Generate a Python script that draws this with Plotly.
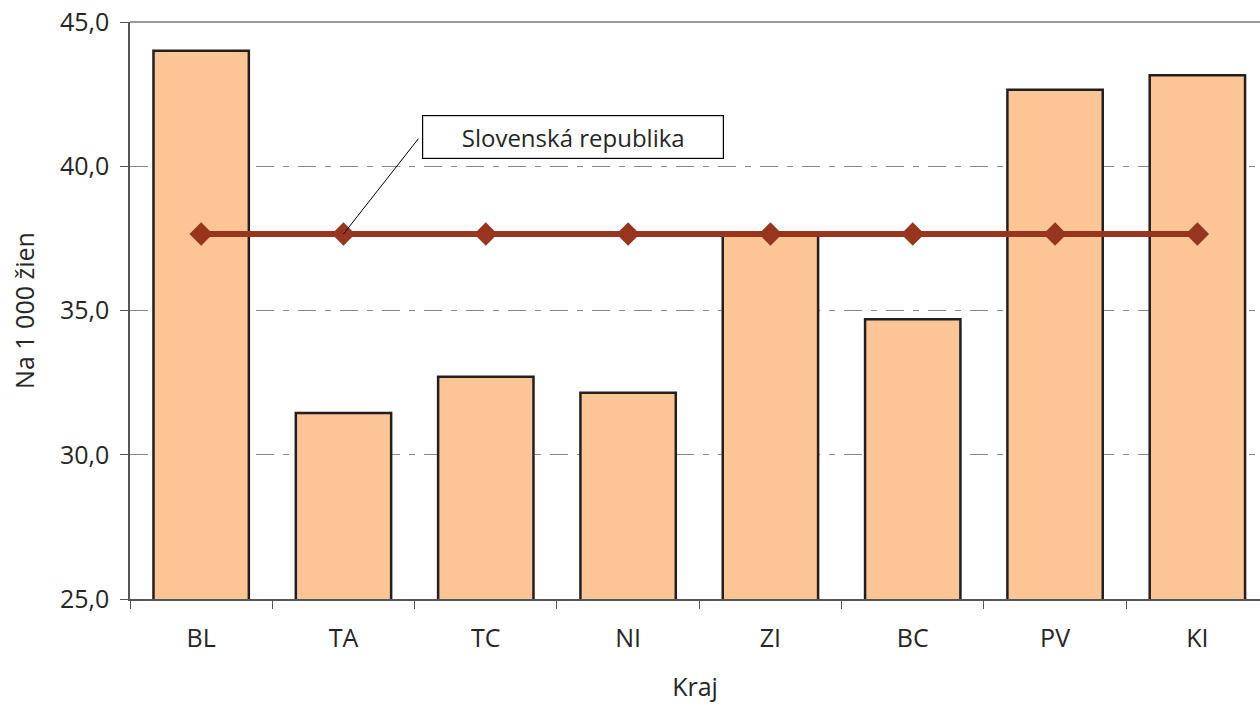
import plotly.graph_objects as go

categories = ["BL", "TA", "TC", "NI", "ZI", "BC", "PV", "KI"]
kraj_values = [44.0, 31.45, 32.7, 32.15, 37.7, 34.7, 42.65, 43.15]
sr_values = [37.65, 37.65, 37.65, 37.65, 37.65, 37.65, 37.65, 37.65]
y_tickvals = [25, 30, 35, 40, 45]
y_ticktext = ["25,0", "30,0", "35,0", "40,0", "45,0"]
series_label = "Slovenská republika"

FONT = "Open Sans"
TXT = "#262626"

fig = go.Figure()
fig.add_trace(go.Bar(
    x=categories, y=kraj_values, base=0,
    marker=dict(color="#FBC596", line=dict(color="#231F20", width=2.5)),
    width=0.67, showlegend=False,
))
fig.add_trace(go.Scatter(
    x=categories, y=sr_values, mode="lines+markers",
    line=dict(color="#97351F", width=6),
    marker=dict(symbol="diamond", size=18, color="#97351F"),
    showlegend=False, name=series_label,
))

fig.update_layout(
    width=1260, height=707,
    margin=dict(l=130, r=0, t=22, b=108, autoexpand=False),
    plot_bgcolor="white", paper_bgcolor="white",
    font=dict(family=FONT, size=25, color=TXT),
    bargap=0.33,
)
fig.update_xaxes(
    range=[-0.5, 7.44],
    showline=True, linecolor="#555", linewidth=1.5,
    ticks="outside", tickson="boundaries", ticklen=8, tickcolor="#555",
    ticklabelstandoff=16,
    showgrid=False, automargin=False,
    title=dict(text="Kraj", standoff=26, font=dict(size=25)),
    tickfont=dict(size=25),
)
fig.update_yaxes(
    range=[25, 45],
    tickvals=y_tickvals, ticktext=y_ticktext,
    showline=True, linecolor="#555", linewidth=1.5,
    ticks="outside", ticklen=8, tickcolor="#555",
    ticklabelstandoff=6, ticklabeloverflow="allow",
    showgrid=True, gridcolor="#8a8a8a", gridwidth=1,
    griddash="18px,9px,6px,9px",
    zeroline=False, automargin=False,
    title=dict(text="Na 1 000 žien", standoff=18, font=dict(size=25)),
    tickfont=dict(size=25),
)
# top frame line
fig.add_shape(type="line", xref="paper", yref="paper", x0=0, x1=1, y0=1, y1=1,
              line=dict(color="#999", width=2))

# leader line to TA marker
fig.add_annotation(x=categories[1], y=sr_values[1], xref="x", yref="y",
                   text=" ", showarrow=True, arrowhead=0, arrowwidth=1,
                   arrowcolor="#000", ax=77, ay=-98, standoff=0,
                   font=dict(size=2))
# label box
fig.add_annotation(xref="paper", yref="paper", x=0.392, y=0.8007,
                   xanchor="center", yanchor="middle",
                   text=series_label, showarrow=False,
                   bordercolor="#000", borderwidth=1.2, bgcolor="white",
                   width=294, height=36, borderpad=3,
                   font=dict(size=24, color=TXT))

fig.write_html("out.html", config={"displayModeBar": False},
               post_script="document.body.style.margin='0px';")
